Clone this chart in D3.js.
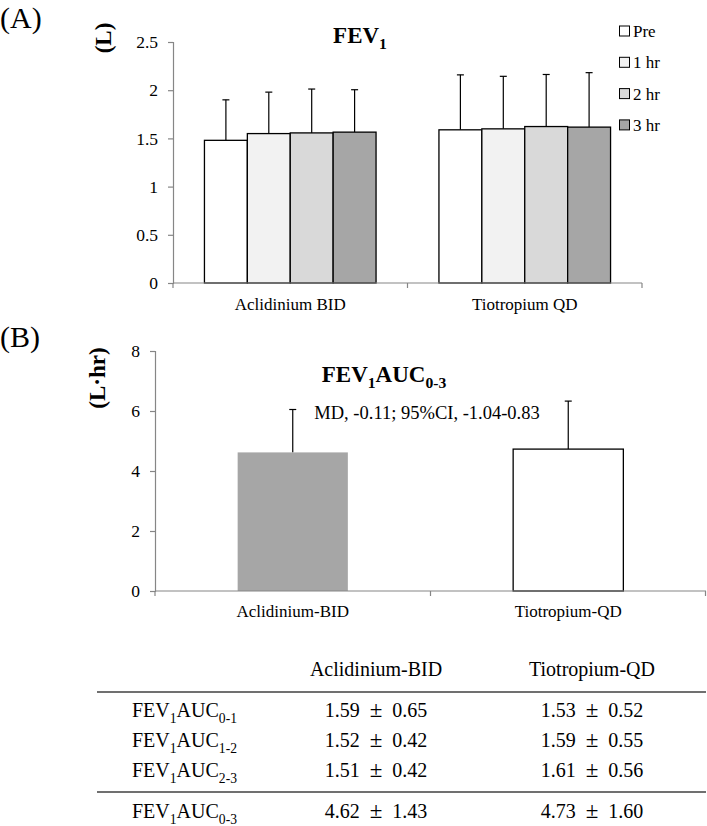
<!DOCTYPE html>
<html><head><meta charset="utf-8">
<script src="https://cdn.jsdelivr.net/npm/d3@7"></script>
<style>
html,body{margin:0;padding:0;background:#fff;}
svg text{font-family:"Liberation Serif","Times New Roman",serif;fill:#000;}
</style></head>
<body>
<svg id="chart" width="707" height="826"></svg>
<script>
// ---- Data ----
const groupsA = ["Aclidinium BID", "Tiotropium QD"];
const seriesA = ["Pre", "1 hr", "2 hr", "3 hr"];
const meansA = [[1.48, 1.55, 1.557, 1.565], [1.589, 1.599, 1.623, 1.617]];
const errsA  = [[0.42, 0.43, 0.455, 0.44], [0.57, 0.545, 0.54, 0.565]];
const ticksA = [0, 0.5, 1, 1.5, 2, 2.5];

const groupsB = ["Aclidinium-BID", "Tiotropium-QD"];
const meansB = [4.62, 4.73];
const errsB  = [1.43, 1.60];
const ticksB = [0, 2, 4, 6, 8];
const noteB = "MD, -0.11; 95%CI, -1.04-0.83";

const tableCols = ["Aclidinium-BID", "Tiotropium-QD"];
const tableSubs = ["0-1", "1-2", "2-3", "0-3"];
const aclMean = [1.59, 1.52, 1.51, 4.62];
const aclSD   = [0.65, 0.42, 0.42, 1.43];
const tioMean = [1.53, 1.59, 1.61, 4.73];
const tioSD   = [0.52, 0.55, 0.56, 1.60];

// ---- Styles ----
const fillsA = ["#ffffff", "#f2f2f2", "#d9d9d9", "#a6a6a6"];
const fillsB = ["#a6a6a6", "#ffffff"];
const strokesB = ["none", "#000"];
const axisCol = "#868686";
const SERIF = "Liberation Serif";

const svg = d3.select("#chart");

function subText(g, x, y, parts, size, anchor, weight) {
  const t = g.append("text").attr("x", x).attr("y", y)
    .attr("text-anchor", anchor).style("font-size", size + "px")
    .style("font-weight", weight || "normal");
  let sub = false;
  parts.forEach(([s, isSub]) => {
    const ts = t.append("tspan").text(s);
    if (isSub) {
      ts.style("font-size", (size * 0.68) + "px");
      if (!sub) { ts.attr("dy", size * 0.28); sub = true; }
    } else if (sub) { ts.attr("dy", -size * 0.28); sub = false; }
  });
  return t;
}

function styleAxis(g) {
  g.attr("font-family", null);
  g.select(".domain").attr("stroke", axisCol).attr("stroke-width", 1.2);
  g.selectAll(".tick line").attr("stroke", axisCol).attr("stroke-width", 1.2);
  g.selectAll(".tick text").style("font-size", "17.5px").style("font-family", SERIF).attr("fill", "#000");
}

// ================= Panel A =================
const A = svg.append("g");
const yA = d3.scaleLinear().domain([0, 2.5]).range([283, 42]);
const xA = d3.scaleBand().domain(groupsA).range([173, 642]);
const x1A = d3.scaleBand().domain(seriesA).range([0, xA.bandwidth()]).paddingOuter(0.733).paddingInner(0);

const gyA = A.append("g").attr("transform", "translate(173,0)")
  .call(d3.axisLeft(yA).tickValues(ticksA).tickSize(5).tickPadding(10).tickFormat(d3.format("~g")));
styleAxis(gyA);

groupsA.forEach((g, gi) => {
  seriesA.forEach((s, si) => {
    const x0 = xA(g) + x1A(s);
    const w = x1A.bandwidth();
    const v = meansA[gi][si], e = errsA[gi][si];
    const cx = x0 + w / 2;
    A.append("line").attr("x1", cx).attr("x2", cx).attr("y1", yA(v)).attr("y2", yA(v + e))
      .attr("stroke", "#000").attr("stroke-width", 1.2);
    A.append("line").attr("x1", cx - 3.5).attr("x2", cx + 3.5).attr("y1", yA(v + e)).attr("y2", yA(v + e))
      .attr("stroke", "#000").attr("stroke-width", 1.2);
    A.append("rect").attr("x", x0).attr("width", w).attr("y", yA(v)).attr("height", yA(0) - yA(v))
      .attr("fill", fillsA[si]).attr("stroke", "#000").attr("stroke-width", 1.3);
  });
});

A.append("line").attr("x1", 173).attr("x2", 642).attr("y1", yA(0)).attr("y2", yA(0))
  .attr("stroke", axisCol).attr("stroke-width", 1.2);
[...groupsA.map(g => xA(g)), xA.range()[1]].forEach(x => {
  A.append("line").attr("x1", x).attr("x2", x).attr("y1", yA(0)).attr("y2", yA(0) + 5)
    .attr("stroke", axisCol).attr("stroke-width", 1.2);
});
groupsA.forEach(g => {
  A.append("text").attr("x", xA(g) + xA.bandwidth() / 2).attr("y", 310)
    .attr("text-anchor", "middle").style("font-size", "17px").text(g);
});

seriesA.forEach((s, i) => {
  const cy = 31 + i * 31.3;
  A.append("rect").attr("x", 619.5).attr("y", cy - 5).attr("width", 10).attr("height", 10)
    .attr("fill", fillsA[i]).attr("stroke", "#000").attr("stroke-width", 1);
  A.append("text").attr("x", 633).attr("y", cy + 6).style("font-size", "17px").text(s);
});

subText(A, 360, 43, [["FEV", false], ["1", true]], 23, "middle", "bold");
A.append("text").attr("transform", "translate(111,38) rotate(-90)").attr("text-anchor", "middle")
  .style("font-size", "23px").style("font-weight", "bold").text("(L)");
A.append("text").attr("x", 0).attr("y", 28).style("font-size", "30px").text("(A)");

// ================= Panel B =================
const B = svg.append("g");
const yB = d3.scaleLinear().domain([0, 8]).range([591, 351]);
const xB = d3.scaleBand().domain(groupsB).range([155, 706]).paddingInner(0).paddingOuter(0);
const barW = xB.bandwidth() * 0.40;

const gyB = B.append("g").attr("transform", "translate(155,0)")
  .call(d3.axisLeft(yB).tickValues(ticksB).tickSize(5).tickPadding(10));
styleAxis(gyB);

groupsB.forEach((g, i) => {
  const cx = xB(g) + xB.bandwidth() / 2;
  const v = meansB[i], e = errsB[i];
  B.append("line").attr("x1", cx).attr("x2", cx).attr("y1", yB(v)).attr("y2", yB(v + e))
    .attr("stroke", "#000").attr("stroke-width", 1.2);
  B.append("line").attr("x1", cx - 3.5).attr("x2", cx + 3.5).attr("y1", yB(v + e)).attr("y2", yB(v + e))
    .attr("stroke", "#000").attr("stroke-width", 1.2);
  B.append("rect").attr("x", cx - barW / 2).attr("width", barW).attr("y", yB(v)).attr("height", yB(0) - yB(v))
    .attr("fill", fillsB[i]).attr("stroke", strokesB[i]).attr("stroke-width", 1.3);
});

B.append("line").attr("x1", 155).attr("x2", 706).attr("y1", yB(0)).attr("y2", yB(0))
  .attr("stroke", axisCol).attr("stroke-width", 1.2);
[...groupsB.map(g => xB(g)), xB.range()[1] - 0.5].forEach(x => {
  B.append("line").attr("x1", x).attr("x2", x).attr("y1", yB(0)).attr("y2", yB(0) + 5)
    .attr("stroke", axisCol).attr("stroke-width", 1.2);
});
groupsB.forEach(g => {
  B.append("text").attr("x", xB(g) + xB.bandwidth() / 2).attr("y", 617)
    .attr("text-anchor", "middle").style("font-size", "17px").text(g);
});

subText(B, 384, 382, [["FEV", false], ["1", true], ["AUC", false], ["0-3", true]], 23, "middle", "bold");
B.append("text").attr("x", 427).attr("y", 419).attr("text-anchor", "middle").style("font-size", "18.5px").text(noteB);
B.append("text").attr("transform", "translate(105,378) rotate(-90)").attr("text-anchor", "middle")
  .style("font-size", "23px").style("font-weight", "bold").text("(L\u00B7hr)");
B.append("text").attr("x", 0).attr("y", 347).style("font-size", "30px").text("(B)");

// ================= Table =================
const T = svg.append("g");
const colX = [376, 592];
const rowY = [717, 747, 777, 818];
tableCols.forEach((c, i) => {
  T.append("text").attr("x", colX[i]).attr("y", 676).attr("text-anchor", "middle").style("font-size", "20px").text(c);
});
T.append("line").attr("x1", 97).attr("x2", 706).attr("y1", 692).attr("y2", 692).attr("stroke", "#404040").attr("stroke-width", 1.3);
T.append("line").attr("x1", 97).attr("x2", 706).attr("y1", 792).attr("y2", 792).attr("stroke", "#404040").attr("stroke-width", 1.3);
function valText(x, y, m, sd) {
  const t = T.append("text").attr("x", x).attr("y", y).attr("text-anchor", "middle").style("font-size", "20px");
  t.append("tspan").text(m.toFixed(2) + "\u2002");
  t.append("tspan").style("font-size", "23px").text("\u00B1");
  t.append("tspan").text("\u2002" + sd.toFixed(2));
}
tableSubs.forEach((s, i) => {
  subText(T, 132, rowY[i], [["FEV", false], ["1", true], ["AUC", false], [s, true]], 20, "start", "normal");
  valText(colX[0], rowY[i], aclMean[i], aclSD[i]);
  valText(colX[1], rowY[i], tioMean[i], tioSD[i]);
});
</script>
</body></html>
